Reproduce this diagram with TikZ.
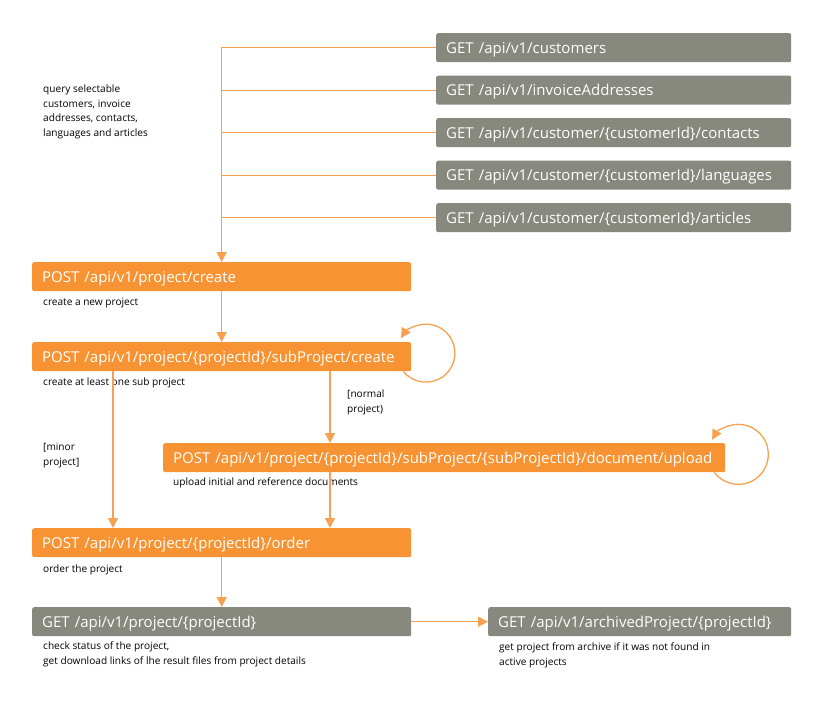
\documentclass[tikz,border=0pt]{standalone}
\usepackage{fontspec}
\setmainfont{Open Sans}
\usetikzlibrary{arrows.meta,calc}
\definecolor{orng}{RGB}{247,147,50}
\definecolor{lorng}{RGB}{246,160,80}
\definecolor{greybox}{RGB}{135,136,126}
\begin{document}
\begin{tikzpicture}[x=1pt,y=-1pt,
  box/.style={anchor=north west, rounded corners=2pt, minimum height=29pt, inner xsep=10pt, inner ysep=0pt, text height=11.5pt, text depth=0pt, align=left, text=white, font=\fontsize{15}{17}\selectfont},
  getbox/.style={box, fill=greybox},
  postbox/.style={box, fill=orng},
  note/.style={anchor=north west, inner sep=0pt, align=left, font=\fontsize{10.1}{14.5}\selectfont},
  conn/.style={draw=lorng, line width=1.3pt},
  arr/.style={conn, -{Triangle[length=10pt,width=10pt]}}]
\useasboundingbox (0,0) rectangle (813,713);

% GET boxes
\node[getbox, text width=335pt] (g1) at (436,33) {GET /api/v1/customers};
\node[getbox, text width=335pt] (g2) at (436,75.5) {GET /api/v1/invoiceAddresses};
\node[getbox, text width=335pt] (g3) at (436,118) {GET /api/v1/customer/\{customerId\}/contacts};
\node[getbox, text width=335pt] (g4) at (436,160.5) {GET /api/v1/customer/\{customerId\}/languages};
\node[getbox, text width=335pt] (g5) at (436,203) {GET /api/v1/customer/\{customerId\}/articles};

% POST boxes
\node[postbox, text width=359pt] (create) at (32,262) {POST /api/v1/project/create};
\node[postbox, text width=359pt] (sub) at (32,342) {POST /api/v1/project/\{projectId\}/subProject/create};
\node[postbox, text width=542pt] (upload) at (163,443) {POST /api/v1/project/\{projectId\}/subProject/\{subProjectId\}/document/upload};
\node[postbox, text width=359pt] (order) at (32,528) {POST /api/v1/project/\{projectId\}/order};
\node[getbox, text width=359pt] (status) at (32,607) {GET /api/v1/project/\{projectId\}};
\node[getbox, text width=283pt] (arch) at (488,607) {GET /api/v1/archivedProject/\{projectId\}};

% notes
\node[note] (nq) at (43,85) {query selectable\\customers, invoice\\addresses, contacts,\\languages and articles};
\node[note] (ncreate) at (43,298) {create a new project};
\node[note] (nsub) at (43,378) {create at least one sub project};
\node[note] (nnormal) at (347,390) {[normal\\project)};
\node[note] (nminor) at (43,443) {[minor\\project]};
\node[note] (nupload) at (173,478) {upload initial and reference documents};
\node[note] (norder) at (43,565) {order the project};
\node[note] (nstatus) at (43,642) {check status of the project,\\get download links of lhe result files from project details};
\node[note] (narch) at (499,643) {get project from archive if it was not found in\\active projects};

% connectors
\coordinate (minorx) at (113,0);
\coordinate (normalx) at (330,0);
\draw[arr] (g1.west) -| (create.north);
\foreach \g in {g2,g3,g4,g5} {\draw[conn] (\g.west) -- (\g.west -| create.north);}
\draw[arr] (create.south) -- (sub.north);
\draw[arr] (sub.south -| minorx) -- (order.north -| minorx);
\draw[arr] (sub.south -| normalx) -- (upload.north -| normalx);
\draw[arr] (upload.south -| normalx) -- (order.north -| normalx);
\draw[arr] (order.south) -- (status.north);
\draw[arr] (status.east) -- (arch.west);

% self loops
\coordinate (l1) at ($(sub.south east)+(-8,0)$);
\draw[arr] (l1) arc[start angle=141, end angle=-149, radius=29];
\coordinate (l2) at ($(upload.south east)+(-11,0)$);
\draw[arr] (l2) arc[start angle=143, end angle=-151, radius=30];
\end{tikzpicture}
\end{document}
